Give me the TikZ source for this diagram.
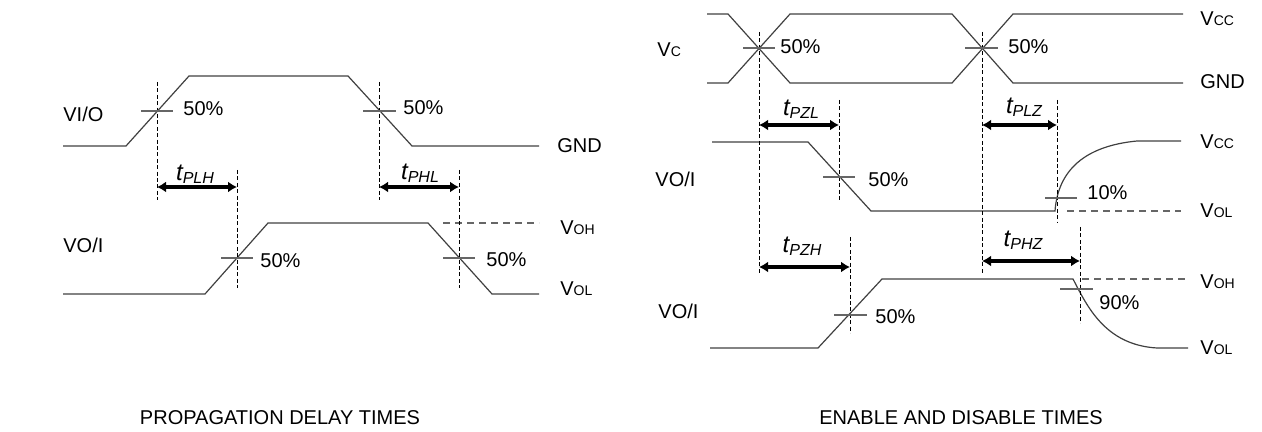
\documentclass[tikz,border=0pt]{standalone}
\usepackage{fontspec}
\setmainfont{Liberation Sans}
\usetikzlibrary{arrows.meta}
\newcommand\vsub[2]{#1{\fontsize{7}{7}\selectfont #2}}
\newcommand\tsub[1]{{\fontsize{12}{12}\selectfont\itshape t}\raisebox{-1.5pt}{\fontsize{8}{8}\selectfont\itshape #1}}
\begin{document}
\begin{tikzpicture}[x=0.5pt,y=-0.5pt,
 sig/.style={draw=black!75,line width=0.6pt},
 guide/.style={draw=black,line width=0.5pt,dash pattern=on 2pt off 1.2pt},
 lvl/.style={draw=black!60,line width=0.6pt,dash pattern=on 3.5pt off 2.5pt},
 tickmark/.style={draw=black!60,line width=0.6pt},
 dim/.style={line width=2pt,{Latex[length=4.5pt,width=5.5pt]}-{Latex[length=4.5pt,width=5.5pt]}},
 lab/.style={inner sep=0pt,anchor=west,font=\fontsize{10}{12}\selectfont},
 tl/.style={inner sep=0pt,anchor=base},
 ttl/.style={inner sep=0pt,anchor=center,font=\fontsize{10}{12}\selectfont},
]
\useasboundingbox (0,0) rectangle (1262,432);

% ===== Propagation delay times =====
\draw[sig] (63,146) -- (126,146) -- (189,76) -- (348,76) -- (412,146) -- (539,146);
\draw[sig] (63,294) -- (205,294) -- (268,223) -- (428,223) -- (492,294) -- (539,294);
\draw[lvl] (443,223) -- (539,223);

\coordinate (g1t) at (157,82);  \coordinate (g1b) at (157,200);
\coordinate (g2t) at (237,170); \coordinate (g2b) at (237,288);
\coordinate (g3t) at (379,82);  \coordinate (g3b) at (379,200);
\coordinate (g4t) at (459,170); \coordinate (g4b) at (459,288);
\draw[guide] (g1t) -- (g1b);
\draw[guide] (g2t) -- (g2b);
\draw[guide] (g3t) -- (g3b);
\draw[guide] (g4t) -- (g4b);

\draw[tickmark] (141,111) -- (173,111);
\draw[tickmark] (363,111) -- (396,111);
\draw[tickmark] (221,258) -- (253,258);
\draw[tickmark] (443,258) -- (475,258);

\coordinate (a1l) at (157,187); \coordinate (a1r) at (237,187);
\coordinate (a2l) at (379,187); \coordinate (a2r) at (459,187);
\draw[dim] (a1l) -- (a1r);
\draw[dim] (a2l) -- (a2r);

\node[tl] (tplh) at (195,181) {\tsub{PLH}};
\node[tl] (tphl) at (420,180) {\tsub{PHL}};

\node[lab] (p1) at (183,109) {50\%};
\node[lab] (p2) at (403,108) {50\%};
\node[lab] (p3) at (260,261) {50\%};
\node[lab] (p4) at (486,260) {50\%};

\node[lab] (vio) at (63,114) {VI/O};
\node[lab] (voi1) at (63,245) {VO/I};
\node[lab] (gnd1) at (557,146) {GND};
\node[lab] (voh1) at (560,228) {\vsub{V}{OH}};
\node[lab] (vol1) at (560,289) {\vsub{V}{OL}};

\node[ttl] (title1) at (280,418) {PROPAGATION DELAY TIMES};

% ===== Enable and disable times =====
\draw[sig] (707,14) -- (728,14) -- (790,83) -- (952,83) -- (1013,14) -- (1183,14);
\draw[sig] (707,83) -- (728,83) -- (790,14) -- (952,14) -- (1013,83) -- (1183,83);
\draw[sig] (712,142) -- (808,142) -- (871,211) -- (1055,211)
  .. controls (1058,170) and (1085,146) .. (1137,141) -- (1181,141);
\draw[lvl] (1067,211) -- (1181,211);
\draw[sig] (710,348) -- (818,348) -- (882,279) -- (1073,279)
  .. controls (1087,306) and (1105,345) .. (1157,348) -- (1188,348);
\draw[lvl] (1082,279) -- (1186,279);

\coordinate (h1t) at (759,32);   \coordinate (h1b) at (759,275);
\coordinate (h2t) at (982,32);   \coordinate (h2b) at (982,273);
\coordinate (h3t) at (839,100);  \coordinate (h3b) at (839,202);
\coordinate (h4t) at (1057,100); \coordinate (h4b) at (1057,223);
\coordinate (h5t) at (850,237);  \coordinate (h5b) at (850,333);
\coordinate (h6t) at (1080,227); \coordinate (h6b) at (1080,323);
\draw[guide] (h1t) -- (h1b);
\draw[guide] (h2t) -- (h2b);
\draw[guide] (h3t) -- (h3b);
\draw[guide] (h4t) -- (h4b);
\draw[guide] (h5t) -- (h5b);
\draw[guide] (h6t) -- (h6b);

\draw[tickmark] (743,48) -- (775,48);
\draw[tickmark] (965,48) -- (998,48);
\draw[tickmark] (823,177) -- (855,177);
\draw[tickmark] (1045,198) -- (1077,198);
\draw[tickmark] (834,315) -- (867,315);
\draw[tickmark] (1060,289) -- (1093,289);

\coordinate (b1l) at (759,125);  \coordinate (b1r) at (839,125);
\coordinate (b2l) at (982,125);  \coordinate (b2r) at (1057,125);
\coordinate (b3l) at (759,267);  \coordinate (b3r) at (850,267);
\coordinate (b4l) at (982,261);  \coordinate (b4r) at (1080,261);
\draw[dim] (b1l) -- (b1r);
\draw[dim] (b2l) -- (b2r);
\draw[dim] (b3l) -- (b3r);
\draw[dim] (b4l) -- (b4r);

\node[tl] (tpzl) at (801,116) {\tsub{PZL}};
\node[tl] (tplz) at (1024,114) {\tsub{PLZ}};
\node[tl] (tpzh) at (802,253) {\tsub{PZH}};
\node[tl] (tphz) at (1023,247) {\tsub{PHZ}};

\node[lab] (q1) at (780,47) {50\%};
\node[lab] (q2) at (1008,47) {50\%};
\node[lab] (q3) at (868,180) {50\%};
\node[lab] (q4) at (1087,193) {10\%};
\node[lab] (q5) at (875,317) {50\%};
\node[lab] (q6) at (1099,303) {90\%};

\node[lab] (vc) at (657,50) {\vsub{V}{C}};
\node[lab] (voi2) at (655,179) {VO/I};
\node[lab] (voi3) at (658,311) {VO/I};
\node[lab] (vcc1) at (1200,19) {\vsub{V}{CC}};
\node[lab] (gnd2) at (1200,82) {GND};
\node[lab] (vcc2) at (1200,142) {\vsub{V}{CC}};
\node[lab] (vol2) at (1200,211) {\vsub{V}{OL}};
\node[lab] (voh2) at (1200,282) {\vsub{V}{OH}};
\node[lab] (vol3) at (1200,348) {\vsub{V}{OL}};

\node[ttl] (title2) at (961,418) {ENABLE AND DISABLE TIMES};
\end{tikzpicture}
\end{document}
